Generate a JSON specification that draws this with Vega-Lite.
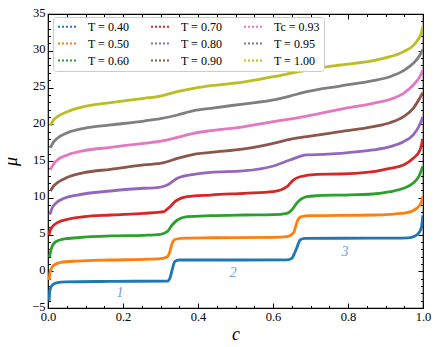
{
  "$schema": "https://vega.github.io/schema/vega-lite/v6.json",
  "autosize": "none",
  "width": 375,
  "height": 294,
  "padding": {"left": 48, "top": 14, "right": 17, "bottom": 39},
  "background": "white",
  "config": {
    "view": {"stroke": "black", "strokeWidth": 1.2},
    "axis": {"domain": false, "grid": false, "labelFlush": false, "tickColor": "black", "tickWidth": 1, "labelColor": "black", "labelFont": "Liberation Serif", "labelFontSize": 12.5, "titleFont": "Liberation Serif", "titleFontWeight": "normal", "titleColor": "black"}
  },
  "datasets": {
    "curves": [
      {"T": "T = 0.40", "c": 0.003, "mu": -4.0}, {"T": "T = 0.40", "c": 0.005, "mu": -2.6}, {"T": "T = 0.40", "c": 0.0115, "mu": -1.87}, {"T": "T = 0.40", "c": 0.025, "mu": -1.55}, {"T": "T = 0.40", "c": 0.047, "mu": -1.45}, {"T": "T = 0.40", "c": 0.167, "mu": -1.38}, {"T": "T = 0.40", "c": 0.318, "mu": -1.33}, {"T": "T = 0.40", "c": 0.325, "mu": -0.96}, {"T": "T = 0.40", "c": 0.331, "mu": 0.17}, {"T": "T = 0.40", "c": 0.338, "mu": 1.3}, {"T": "T = 0.40", "c": 0.349, "mu": 1.53}, {"T": "T = 0.40", "c": 0.523, "mu": 1.53}, {"T": "T = 0.40", "c": 0.637, "mu": 1.55}, {"T": "T = 0.40", "c": 0.65, "mu": 1.75}, {"T": "T = 0.40", "c": 0.656, "mu": 2.3}, {"T": "T = 0.40", "c": 0.663, "mu": 3.12}, {"T": "T = 0.40", "c": 0.668, "mu": 3.8}, {"T": "T = 0.40", "c": 0.672, "mu": 4.25}, {"T": "T = 0.40", "c": 0.685, "mu": 4.48}, {"T": "T = 0.40", "c": 0.867, "mu": 4.5}, {"T": "T = 0.40", "c": 0.96, "mu": 4.55}, {"T": "T = 0.40", "c": 0.979, "mu": 4.8}, {"T": "T = 0.40", "c": 0.99, "mu": 5.3}, {"T": "T = 0.40", "c": 0.996, "mu": 6.0}, {"T": "T = 0.40", "c": 0.9995, "mu": 7.6},

      {"T": "T = 0.50", "c": 0.003, "mu": -1.2}, {"T": "T = 0.50", "c": 0.007, "mu": 0.17}, {"T": "T = 0.50", "c": 0.016, "mu": 0.85}, {"T": "T = 0.50", "c": 0.034, "mu": 1.22}, {"T": "T = 0.50", "c": 0.078, "mu": 1.39}, {"T": "T = 0.50", "c": 0.167, "mu": 1.53}, {"T": "T = 0.50", "c": 0.256, "mu": 1.62}, {"T": "T = 0.50", "c": 0.3, "mu": 1.71}, {"T": "T = 0.50", "c": 0.318, "mu": 1.98}, {"T": "T = 0.50", "c": 0.325, "mu": 2.66}, {"T": "T = 0.50", "c": 0.331, "mu": 3.8}, {"T": "T = 0.50", "c": 0.34, "mu": 4.35}, {"T": "T = 0.50", "c": 0.363, "mu": 4.52}, {"T": "T = 0.50", "c": 0.434, "mu": 4.56}, {"T": "T = 0.50", "c": 0.601, "mu": 4.62}, {"T": "T = 0.50", "c": 0.637, "mu": 4.7}, {"T": "T = 0.50", "c": 0.654, "mu": 5.16}, {"T": "T = 0.50", "c": 0.663, "mu": 6.52}, {"T": "T = 0.50", "c": 0.667, "mu": 7.07}, {"T": "T = 0.50", "c": 0.676, "mu": 7.42}, {"T": "T = 0.50", "c": 0.699, "mu": 7.56}, {"T": "T = 0.50", "c": 0.867, "mu": 7.65}, {"T": "T = 0.50", "c": 0.912, "mu": 7.75}, {"T": "T = 0.50", "c": 0.957, "mu": 7.97}, {"T": "T = 0.50", "c": 0.983, "mu": 8.56}, {"T": "T = 0.50", "c": 0.995, "mu": 9.3}, {"T": "T = 0.50", "c": 0.9995, "mu": 10.2},

      {"T": "T = 0.60", "c": 0.004, "mu": 1.9}, {"T": "T = 0.60", "c": 0.009, "mu": 3.12}, {"T": "T = 0.60", "c": 0.0205, "mu": 4.02}, {"T": "T = 0.60", "c": 0.043, "mu": 4.39}, {"T": "T = 0.60", "c": 0.078, "mu": 4.56}, {"T": "T = 0.60", "c": 0.167, "mu": 4.8}, {"T": "T = 0.60", "c": 0.256, "mu": 4.89}, {"T": "T = 0.60", "c": 0.3, "mu": 5.03}, {"T": "T = 0.60", "c": 0.318, "mu": 5.38}, {"T": "T = 0.60", "c": 0.331, "mu": 6.29}, {"T": "T = 0.60", "c": 0.345, "mu": 6.97}, {"T": "T = 0.60", "c": 0.371, "mu": 7.42}, {"T": "T = 0.60", "c": 0.434, "mu": 7.56}, {"T": "T = 0.60", "c": 0.523, "mu": 7.65}, {"T": "T = 0.60", "c": 0.601, "mu": 7.7}, {"T": "T = 0.60", "c": 0.637, "mu": 7.88}, {"T": "T = 0.60", "c": 0.65, "mu": 8.33}, {"T": "T = 0.60", "c": 0.663, "mu": 9.24}, {"T": "T = 0.60", "c": 0.69, "mu": 10.14}, {"T": "T = 0.60", "c": 0.717, "mu": 10.28}, {"T": "T = 0.60", "c": 0.779, "mu": 10.37}, {"T": "T = 0.60", "c": 0.867, "mu": 10.51}, {"T": "T = 0.60", "c": 0.912, "mu": 10.82}, {"T": "T = 0.60", "c": 0.948, "mu": 11.29}, {"T": "T = 0.60", "c": 0.974, "mu": 12.0}, {"T": "T = 0.60", "c": 0.99, "mu": 13.0}, {"T": "T = 0.60", "c": 0.9995, "mu": 14.3},

      {"T": "T = 0.70", "c": 0.003, "mu": 4.9}, {"T": "T = 0.70", "c": 0.0053, "mu": 5.5}, {"T": "T = 0.70", "c": 0.0115, "mu": 6.06}, {"T": "T = 0.70", "c": 0.025, "mu": 6.61}, {"T": "T = 0.70", "c": 0.052, "mu": 7.07}, {"T": "T = 0.70", "c": 0.096, "mu": 7.42}, {"T": "T = 0.70", "c": 0.167, "mu": 7.65}, {"T": "T = 0.70", "c": 0.256, "mu": 7.88}, {"T": "T = 0.70", "c": 0.309, "mu": 8.1}, {"T": "T = 0.70", "c": 0.318, "mu": 8.45}, {"T": "T = 0.70", "c": 0.327, "mu": 8.85}, {"T": "T = 0.70", "c": 0.336, "mu": 9.35}, {"T": "T = 0.70", "c": 0.345, "mu": 9.69}, {"T": "T = 0.70", "c": 0.371, "mu": 10.14}, {"T": "T = 0.70", "c": 0.434, "mu": 10.37}, {"T": "T = 0.70", "c": 0.523, "mu": 10.6}, {"T": "T = 0.70", "c": 0.601, "mu": 10.82}, {"T": "T = 0.70", "c": 0.637, "mu": 11.5}, {"T": "T = 0.70", "c": 0.654, "mu": 12.41}, {"T": "T = 0.70", "c": 0.672, "mu": 12.86}, {"T": "T = 0.70", "c": 0.717, "mu": 13.19}, {"T": "T = 0.70", "c": 0.779, "mu": 13.23}, {"T": "T = 0.70", "c": 0.867, "mu": 13.54}, {"T": "T = 0.70", "c": 0.912, "mu": 14.01}, {"T": "T = 0.70", "c": 0.948, "mu": 14.46}, {"T": "T = 0.70", "c": 0.974, "mu": 15.37}, {"T": "T = 0.70", "c": 0.992, "mu": 16.5}, {"T": "T = 0.70", "c": 0.9995, "mu": 18.0},

      {"T": "T = 0.80", "c": 0.005, "mu": 7.7}, {"T": "T = 0.80", "c": 0.011, "mu": 8.6}, {"T": "T = 0.80", "c": 0.0205, "mu": 9.24}, {"T": "T = 0.80", "c": 0.043, "mu": 9.92}, {"T": "T = 0.80", "c": 0.078, "mu": 10.37}, {"T": "T = 0.80", "c": 0.167, "mu": 10.92}, {"T": "T = 0.80", "c": 0.256, "mu": 11.29}, {"T": "T = 0.80", "c": 0.292, "mu": 11.37}, {"T": "T = 0.80", "c": 0.318, "mu": 11.73}, {"T": "T = 0.80", "c": 0.345, "mu": 12.65}, {"T": "T = 0.80", "c": 0.389, "mu": 13.19}, {"T": "T = 0.80", "c": 0.434, "mu": 13.46}, {"T": "T = 0.80", "c": 0.52, "mu": 13.65}, {"T": "T = 0.80", "c": 0.601, "mu": 14.32}, {"T": "T = 0.80", "c": 0.645, "mu": 15.14}, {"T": "T = 0.80", "c": 0.69, "mu": 15.82}, {"T": "T = 0.80", "c": 0.734, "mu": 15.91}, {"T": "T = 0.80", "c": 0.779, "mu": 16.05}, {"T": "T = 0.80", "c": 0.867, "mu": 16.5}, {"T": "T = 0.80", "c": 0.912, "mu": 16.95}, {"T": "T = 0.80", "c": 0.948, "mu": 17.63}, {"T": "T = 0.80", "c": 0.974, "mu": 18.54}, {"T": "T = 0.80", "c": 0.992, "mu": 20.0}, {"T": "T = 0.80", "c": 0.9995, "mu": 21.0},

      {"T": "T = 0.90", "c": 0.006, "mu": 10.9}, {"T": "T = 0.90", "c": 0.015, "mu": 11.6}, {"T": "T = 0.90", "c": 0.025, "mu": 12.05}, {"T": "T = 0.90", "c": 0.052, "mu": 12.78}, {"T": "T = 0.90", "c": 0.096, "mu": 13.41}, {"T": "T = 0.90", "c": 0.167, "mu": 13.87}, {"T": "T = 0.90", "c": 0.256, "mu": 14.46}, {"T": "T = 0.90", "c": 0.309, "mu": 14.77}, {"T": "T = 0.90", "c": 0.345, "mu": 15.37}, {"T": "T = 0.90", "c": 0.389, "mu": 15.91}, {"T": "T = 0.90", "c": 0.434, "mu": 16.18}, {"T": "T = 0.90", "c": 0.523, "mu": 16.65}, {"T": "T = 0.90", "c": 0.601, "mu": 17.41}, {"T": "T = 0.90", "c": 0.645, "mu": 17.95}, {"T": "T = 0.90", "c": 0.69, "mu": 18.31}, {"T": "T = 0.90", "c": 0.779, "mu": 18.99}, {"T": "T = 0.90", "c": 0.867, "mu": 19.67}, {"T": "T = 0.90", "c": 0.912, "mu": 20.21}, {"T": "T = 0.90", "c": 0.948, "mu": 21.03}, {"T": "T = 0.90", "c": 0.974, "mu": 22.17}, {"T": "T = 0.90", "c": 0.992, "mu": 23.6}, {"T": "T = 0.90", "c": 0.9995, "mu": 24.3},

      {"T": "Tc = 0.93", "c": 0.006, "mu": 13.8}, {"T": "Tc = 0.93", "c": 0.015, "mu": 14.6}, {"T": "Tc = 0.93", "c": 0.025, "mu": 15.14}, {"T": "Tc = 0.93", "c": 0.052, "mu": 15.82}, {"T": "Tc = 0.93", "c": 0.096, "mu": 16.4}, {"T": "Tc = 0.93", "c": 0.167, "mu": 16.86}, {"T": "Tc = 0.93", "c": 0.256, "mu": 17.41}, {"T": "Tc = 0.93", "c": 0.309, "mu": 17.76}, {"T": "Tc = 0.93", "c": 0.345, "mu": 18.22}, {"T": "Tc = 0.93", "c": 0.389, "mu": 18.77}, {"T": "Tc = 0.93", "c": 0.434, "mu": 19.12}, {"T": "Tc = 0.93", "c": 0.52, "mu": 19.65}, {"T": "Tc = 0.93", "c": 0.601, "mu": 20.35}, {"T": "Tc = 0.93", "c": 0.69, "mu": 21.12}, {"T": "Tc = 0.93", "c": 0.779, "mu": 22.03}, {"T": "Tc = 0.93", "c": 0.867, "mu": 22.85}, {"T": "Tc = 0.93", "c": 0.912, "mu": 23.39}, {"T": "Tc = 0.93", "c": 0.948, "mu": 24.21}, {"T": "Tc = 0.93", "c": 0.974, "mu": 25.34}, {"T": "Tc = 0.93", "c": 0.992, "mu": 26.5}, {"T": "Tc = 0.93", "c": 0.9995, "mu": 27.4},

      {"T": "T = 0.95", "c": 0.006, "mu": 16.8}, {"T": "T = 0.95", "c": 0.015, "mu": 17.6}, {"T": "T = 0.95", "c": 0.025, "mu": 18.09}, {"T": "T = 0.95", "c": 0.052, "mu": 18.85}, {"T": "T = 0.95", "c": 0.096, "mu": 19.45}, {"T": "T = 0.95", "c": 0.167, "mu": 19.9}, {"T": "T = 0.95", "c": 0.256, "mu": 20.44}, {"T": "T = 0.95", "c": 0.3, "mu": 20.76}, {"T": "T = 0.95", "c": 0.345, "mu": 21.26}, {"T": "T = 0.95", "c": 0.389, "mu": 21.84}, {"T": "T = 0.95", "c": 0.434, "mu": 22.17}, {"T": "T = 0.95", "c": 0.52, "mu": 22.75}, {"T": "T = 0.95", "c": 0.601, "mu": 23.3}, {"T": "T = 0.95", "c": 0.645, "mu": 23.84}, {"T": "T = 0.95", "c": 0.69, "mu": 24.43}, {"T": "T = 0.95", "c": 0.779, "mu": 25.2}, {"T": "T = 0.95", "c": 0.867, "mu": 25.93}, {"T": "T = 0.95", "c": 0.912, "mu": 26.47}, {"T": "T = 0.95", "c": 0.948, "mu": 27.29}, {"T": "T = 0.95", "c": 0.974, "mu": 28.29}, {"T": "T = 0.95", "c": 0.992, "mu": 29.42}, {"T": "T = 0.95", "c": 0.9995, "mu": 30.2},

      {"T": "T = 1.00", "c": 0.006, "mu": 19.8}, {"T": "T = 1.00", "c": 0.015, "mu": 20.6}, {"T": "T = 1.00", "c": 0.025, "mu": 21.03}, {"T": "T = 1.00", "c": 0.052, "mu": 21.71}, {"T": "T = 1.00", "c": 0.096, "mu": 22.39}, {"T": "T = 1.00", "c": 0.167, "mu": 22.93}, {"T": "T = 1.00", "c": 0.256, "mu": 23.53}, {"T": "T = 1.00", "c": 0.3, "mu": 23.84}, {"T": "T = 1.00", "c": 0.345, "mu": 24.43}, {"T": "T = 1.00", "c": 0.389, "mu": 24.89}, {"T": "T = 1.00", "c": 0.434, "mu": 25.24}, {"T": "T = 1.00", "c": 0.52, "mu": 25.72}, {"T": "T = 1.00", "c": 0.601, "mu": 26.47}, {"T": "T = 1.00", "c": 0.69, "mu": 27.38}, {"T": "T = 1.00", "c": 0.779, "mu": 28.06}, {"T": "T = 1.00", "c": 0.867, "mu": 28.65}, {"T": "T = 1.00", "c": 0.912, "mu": 29.19}, {"T": "T = 1.00", "c": 0.948, "mu": 29.87}, {"T": "T = 1.00", "c": 0.974, "mu": 30.7}, {"T": "T = 1.00", "c": 0.985, "mu": 31.4}, {"T": "T = 1.00", "c": 0.994, "mu": 32.2}, {"T": "T = 1.00", "c": 0.9995, "mu": 33.3}
    ],
    "notes": [
      {"c": 0.192, "mu": -3.0, "label": "1"},
      {"c": 0.494, "mu": -0.28, "label": "2"},
      {"c": 0.792, "mu": 2.66, "label": "3"}
    ]
  },
  "layer": [
    {
      "data": {"name": "curves"},
      "mark": {"type": "line", "strokeWidth": 2.8, "interpolate": "monotone", "clip": true},
      "encoding": {
        "x": {"field": "c", "type": "quantitative", "scale": {"domain": [0, 1], "nice": false, "zero": false},
              "axis": {"orient": "bottom", "values": [0, 0.2, 0.4, 0.6, 0.8, 1], "format": ".1f", "tickSize": -5, "labelPadding": 7, "title": "c", "titleFontStyle": "italic", "titleFontSize": 18, "titlePadding": 3}},
        "y": {"field": "mu", "type": "quantitative", "scale": {"domain": [-5, 35], "nice": false, "zero": false},
              "axis": {"orient": "left", "values": [-5, 0, 5, 10, 15, 20, 25, 30, 35], "labelExpr": "replace(datum.label, '-', '−')", "tickSize": -5, "labelPadding": 8, "labelOffset": -2, "title": "μ", "titleFontStyle": "italic", "titleFontSize": 18, "titlePadding": 11}},
        "color": {"field": "T", "type": "nominal",
          "scale": {"domain": ["T = 0.40", "T = 0.50", "T = 0.60", "T = 0.70", "T = 0.80", "T = 0.90", "Tc = 0.93", "T = 0.95", "T = 1.00"],
                    "range": ["#1f77b4", "#ff7f0e", "#2ca02c", "#d62728", "#9467bd", "#8c564b", "#e377c2", "#7f7f7f", "#bcbd22"]},
          "legend": {"orient": "none", "legendX": 5, "legendY": 3, "columns": 3, "title": null, "symbolType": "stroke", "symbolSize": 400, "symbolStrokeWidth": 2, "symbolDash": [2, 2], "clipHeight": 11, "rowPadding": 4, "columnPadding": 20, "labelOffset": 9, "padding": 4, "strokeColor": "#cccccc", "fillColor": "white", "cornerRadius": 3, "labelFont": "Liberation Serif", "labelFontSize": 12, "labelColor": "black"}}
      }
    },
    {
      "data": {"name": "notes"},
      "mark": {"type": "text", "fontStyle": "italic", "font": "Liberation Serif", "fontSize": 14, "color": "#729fcf"},
      "encoding": {
        "x": {"field": "c", "type": "quantitative", "scale": {"domain": [0, 1], "nice": false, "zero": false},
              "axis": {"orient": "bottom", "values": [0.05, 0.1, 0.15, 0.25, 0.3, 0.35, 0.45, 0.5, 0.55, 0.65, 0.7, 0.75, 0.85, 0.9, 0.95], "tickSize": -2.5, "labels": false, "title": null}},
        "y": {"field": "mu", "type": "quantitative", "scale": {"domain": [-5, 35], "nice": false, "zero": false},
              "axis": {"orient": "left", "values": [-4, -3, -2, -1, 1, 2, 3, 4, 6, 7, 8, 9, 11, 12, 13, 14, 16, 17, 18, 19, 21, 22, 23, 24, 26, 27, 28, 29, 31, 32, 33, 34], "tickSize": -2.5, "labels": false, "title": null}},
        "text": {"field": "label"}
      }
    },
    {
      "data": {"name": "notes"},
      "mark": {"type": "point", "opacity": 0},
      "encoding": {
        "x": {"field": "c", "type": "quantitative", "scale": {"domain": [0, 1], "nice": false, "zero": false},
              "axis": {"orient": "top", "values": [0, 0.2, 0.4, 0.6, 0.8, 1], "tickSize": -5, "labels": false, "title": null}},
        "y": {"field": "mu", "type": "quantitative", "scale": {"domain": [-5, 35], "nice": false, "zero": false},
              "axis": {"orient": "right", "values": [-5, 0, 5, 10, 15, 20, 25, 30, 35], "tickSize": -5, "labels": false, "title": null}}
      }
    },
    {
      "data": {"name": "notes"},
      "mark": {"type": "point", "opacity": 0},
      "encoding": {
        "x": {"field": "c", "type": "quantitative", "scale": {"domain": [0, 1], "nice": false, "zero": false},
              "axis": {"orient": "top", "values": [0.05, 0.1, 0.15, 0.25, 0.3, 0.35, 0.45, 0.5, 0.55, 0.65, 0.7, 0.75, 0.85, 0.9, 0.95], "tickSize": -2.5, "labels": false, "title": null}},
        "y": {"field": "mu", "type": "quantitative", "scale": {"domain": [-5, 35], "nice": false, "zero": false},
              "axis": {"orient": "right", "values": [-4, -3, -2, -1, 1, 2, 3, 4, 6, 7, 8, 9, 11, 12, 13, 14, 16, 17, 18, 19, 21, 22, 23, 24, 26, 27, 28, 29, 31, 32, 33, 34], "tickSize": -2.5, "labels": false, "title": null}}
      }
    }
  ],
  "resolve": {"axis": {"x": "independent", "y": "independent"}}
}
